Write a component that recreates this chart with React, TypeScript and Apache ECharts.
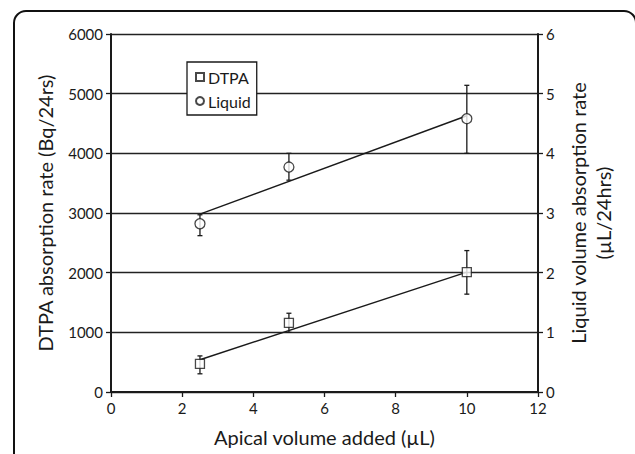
import React, { useEffect, useRef } from "react";
import * as echarts from "echarts";

const xValues = [2.5, 5, 10];
const dtpaMean = [470, 1160, 2010];
const dtpaLow = [305, 1000, 1640];
const dtpaHigh = [605, 1320, 2370];
const liquidMean = [2.82, 3.77, 4.58];
const liquidLow = [2.62, 3.55, 4.0];
const liquidHigh = [2.97, 4.0, 5.14];
const dtpaFitX = [2.5, 10];
const dtpaFitY = [540, 2010];
const liquidFitX = [2.5, 10];
const liquidFitY = [2.98, 4.63];

const FONT = "Lato";
const INK = "#1a1a1a";

function errorSeries(name: string, low: number[], high: number[], yAxisIndex: number) {
  return {
    type: "custom",
    name: name + " err",
    yAxisIndex,
    z: 3,
    silent: true,
    data: xValues.map((x, i) => [x, low[i], high[i]]),
    renderItem: (params: any, api: any) => {
      const x = api.value(0);
      const lo = api.coord([x, api.value(1)]);
      const hi = api.coord([x, api.value(2)]);
      const cap = 2.5;
      const st = { stroke: INK, lineWidth: 1.3 };
      return {
        type: "group",
        children: [
          { type: "line", shape: { x1: lo[0], y1: lo[1], x2: hi[0], y2: hi[1] }, style: st },
          { type: "line", shape: { x1: lo[0] - cap, y1: lo[1], x2: lo[0] + cap, y2: lo[1] }, style: st },
          { type: "line", shape: { x1: hi[0] - cap, y1: hi[1], x2: hi[0] + cap, y2: hi[1] }, style: st },
        ],
      };
    },
  };
}

export default function App() {
  const ref = useRef<HTMLDivElement>(null);
  useEffect(() => {
    document.body.style.margin = "0";
    const chart = echarts.init(ref.current!, null, { renderer: "svg" });
    const axisLabel = { color: INK, fontFamily: FONT, fontSize: 15, formatter: (v: number) => String(v) };
    const titleStyle = { color: INK, fontFamily: FONT, fontSize: 20, lineHeight: 25 };
    chart.setOption({
      animation: false,
      backgroundColor: "#fff",
      grid: { left: 111, right: 97, top: 34, bottom: 60 },
      legend: {
        left: 187,
        top: 62,
        orient: "vertical",
        data: [
          { name: "DTPA", icon: "rect" },
          { name: "Liquid", icon: "circle" },
        ],
        itemWidth: 8,
        itemHeight: 8,
        itemGap: 8,
        padding: [7, 6, 6, 8],
        backgroundColor: "#fff",
        borderColor: INK,
        borderWidth: 1.3,
        borderRadius: 0,
        textStyle: { color: INK, fontFamily: FONT, fontSize: 16, padding: [0, 0, 0, -1] },
      },
      xAxis: {
        type: "value",
        min: 0,
        max: 12,
        interval: 2,
        name: "Apical volume added (µL)",
        nameLocation: "middle",
        nameGap: 32,
        nameTextStyle: titleStyle,
        axisLine: { show: true, lineStyle: { color: INK, width: 2 } },
        axisTick: { show: true, inside: false, length: 5, lineStyle: { color: INK, width: 1.3 } },
        axisLabel: { ...axisLabel, margin: 8 },
        splitLine: { show: false },
      },
      yAxis: [
        {
          type: "value",
          position: "left",
          min: 0,
          max: 6000,
          interval: 1000,
          name: "DTPA absorption rate (Bq/24rs)",
          nameLocation: "middle",
          nameRotate: 90,
          nameGap: 52,
          nameTextStyle: titleStyle,
          axisLine: { show: true, lineStyle: { color: INK, width: 2 } },
          axisTick: { show: true, inside: false, length: 5, lineStyle: { color: INK, width: 1.3 } },
          axisLabel: { ...axisLabel, margin: 8 },
          splitLine: { show: true, lineStyle: { color: "#222", width: 1.4 } },
        },
        {
          type: "value",
          position: "right",
          min: 0,
          max: 6,
          interval: 1,
          name: "Liquid volume absorption rate\n(µL/24hrs)",
          nameLocation: "middle",
          nameRotate: 90,
          nameGap: 27,
          nameTextStyle: { ...titleStyle, align: "center" },
          axisLine: { show: true, lineStyle: { color: INK, width: 2 } },
          axisTick: { show: true, inside: false, length: 5, lineStyle: { color: INK, width: 1.3 } },
          axisLabel: { ...axisLabel, margin: 8 },
          splitLine: { show: false },
        },
      ],
      graphic: [
        {
          type: "rect",
          silent: true,
          z: 100,
          shape: { x: 14, y: 11, width: 622, height: 520, r: 12 },
          style: { fill: "none", stroke: "#111", lineWidth: 2 },
        },
      ],
      series: [
        {
          type: "line",
          name: "DTPA fit",
          yAxisIndex: 0,
          data: dtpaFitX.map((x, i) => [x, dtpaFitY[i]]),
          showSymbol: false,
          symbol: "none",
          lineStyle: { color: INK, width: 1.4 },
          z: 2,
          silent: true,
        },
        {
          type: "line",
          name: "Liquid fit",
          yAxisIndex: 1,
          data: liquidFitX.map((x, i) => [x, liquidFitY[i]]),
          showSymbol: false,
          symbol: "none",
          lineStyle: { color: INK, width: 1.4 },
          z: 2,
          silent: true,
        },
        errorSeries("DTPA", dtpaLow, dtpaHigh, 0),
        errorSeries("Liquid", liquidLow, liquidHigh, 1),
        {
          type: "scatter",
          name: "DTPA",
          yAxisIndex: 0,
          symbol: "rect",
          symbolSize: 9,
          z: 5,
          itemStyle: { color: "#fff", borderColor: INK, borderWidth: 1.3 },
          data: xValues.map((x, i) => [x, dtpaMean[i]]),
        },
        {
          type: "scatter",
          name: "Liquid",
          yAxisIndex: 1,
          symbol: "circle",
          symbolSize: 10,
          z: 5,
          itemStyle: { color: "#fff", borderColor: INK, borderWidth: 1.3 },
          data: xValues.map((x, i) => [x, liquidMean[i]]),
        },
      ],
    });
    return () => chart.dispose();
  }, []);
  return <div ref={ref} style={{ width: 635, height: 454, overflow: "hidden" }} />;
}
